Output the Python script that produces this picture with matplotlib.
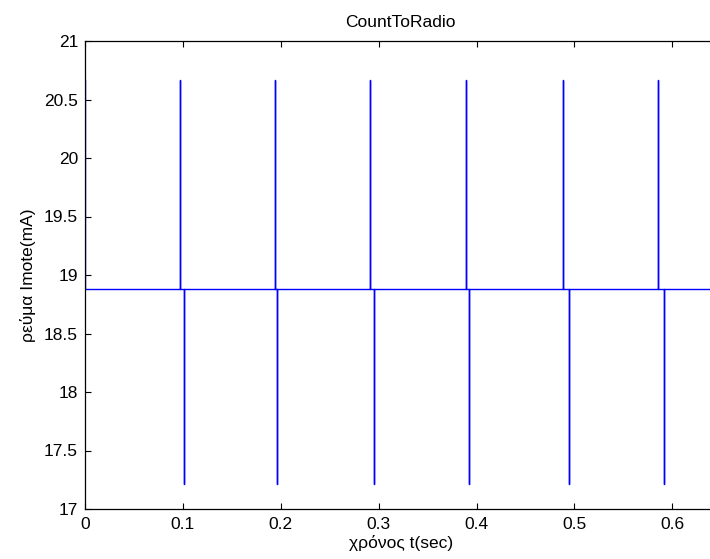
import numpy as np
import matplotlib
matplotlib.use("Agg")
import matplotlib.pyplot as plt

plt.rcParams['font.family'] = ['Liberation Sans', 'DejaVu Sans']

# spike times (sec)
up_times = [0.0, 0.0970, 0.1944, 0.2911, 0.3892, 0.4882, 0.5856]
down_times = [0.1014, 0.1958, 0.2952, 0.3922, 0.4947, 0.5917]
base_level = 18.878   # mA
high_level = 20.664
low_level = 17.21
t_end = 0.645

# build the current trace
t = [0.0, 0.0]
y = [high_level, base_level]
for tu, td in zip(up_times[1:], down_times):
    t += [tu, tu, tu, td, td, td]
    y += [base_level, high_level, base_level, base_level, low_level, base_level]
t.append(t_end)
y.append(base_level)

fig = plt.figure(figsize=(7.10, 5.59), dpi=100)
ax = fig.add_axes([85 / 710, 50 / 559, (t_end * 979) / 710, 468 / 559])
ax.plot(t, y, color='#0000ff', lw=1.0)

ax.set_xlim(0, t_end)
ax.set_ylim(17, 21)
ax.set_xticks([0, 0.1, 0.2, 0.3, 0.4, 0.5, 0.6])
ax.set_xticklabels(['0', '0.1', '0.2', '0.3', '0.4', '0.5', '0.6'])
ax.set_yticks(np.arange(17, 21.01, 0.5))
ax.set_yticklabels(['17', '17.5', '18', '18.5', '19', '19.5', '20', '20.5', '21'])
ax.tick_params(direction='in', length=4, width=0.8, labelsize=12.5,
               top=True, right=True)
ax.tick_params(axis='x', pad=6)
ax.tick_params(axis='y', pad=5)
for s in ax.spines.values():
    s.set_linewidth(0.9)

ax.set_title('CountToRadio', fontsize=12.5, pad=10)
ax.set_xlabel('χρόνος t(sec)', fontsize=12.5, labelpad=2)
ax.set_ylabel('ρεύμα Imote(mA)', fontsize=12.5, labelpad=6)

fig.savefig('out.png', dpi=100)
